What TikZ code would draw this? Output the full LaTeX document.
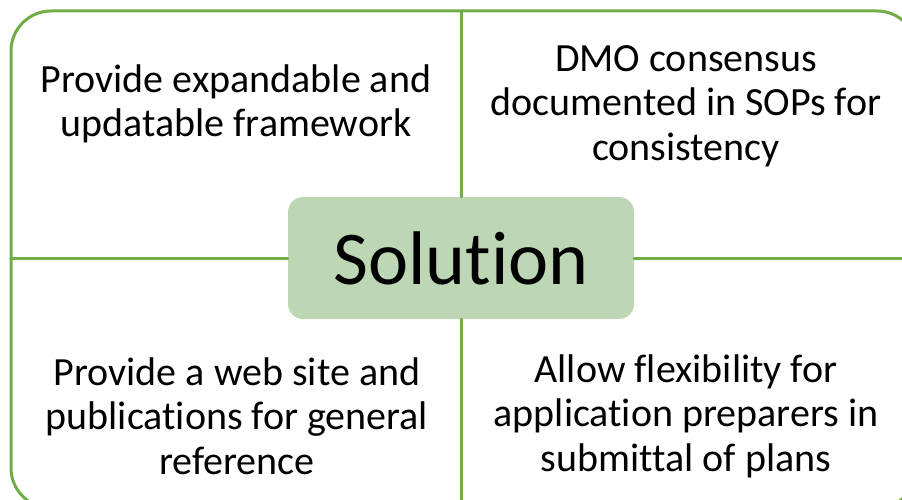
\documentclass[tikz,border=0pt]{standalone}
\usepackage{fontspec}
\setmainfont{Carlito}[RawFeature=-liga]
\definecolor{framegreen}{HTML}{70AD47}
\definecolor{solfill}{HTML}{BDD7B5}
\begin{document}
\begin{tikzpicture}[x=1pt,y=-1pt, line join=round, line cap=round,
    quad/.style={align=center, font=\fontsize{40}{44.5}\selectfont},
    spoke/.style={draw=framegreen, line width=3pt}]
    \def\xm{461} \def\ym{258}
    \useasboundingbox (0,0) rectangle (902,500);
    \draw[spoke, rounded corners=40] (11,11) rectangle (917,508);
    \coordinate (n) at (\xm,11); \coordinate (s) at (\xm,508);
    \coordinate (w) at (11,\ym); \coordinate (e) at (917,\ym);
    \node[fill=solfill, rounded corners=15, minimum width=346, minimum height=122,
        font=\fontsize{76}{90}\selectfont] (sol) at (\xm,\ym) {Solution};
    \draw[spoke] (n)--(sol.north) (s)--(sol.south) (w)--(sol.west) (e)--(sol.east);
    \node[quad] (tl) at (236,104) {Provide expandable and\\updatable framework};
    \node[quad] (tr) at (686,106) {DMO consensus\\documented in SOPs for\\consistency};
    \node[quad] (bl) at (237,416) {Provide a web site and\\publications for general\\reference};
    \node[quad] (br) at (686,416) {Allow flexibility for\\application preparers in\\submittal of plans};
\end{tikzpicture}
\end{document}
